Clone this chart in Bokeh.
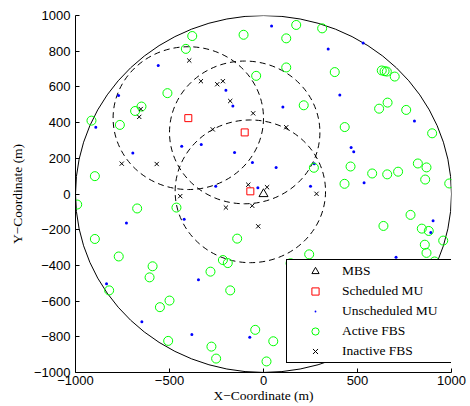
from bokeh.plotting import figure
from bokeh.models import Range1d, FixedTicker, Legend, LegendItem
from bokeh.embed import file_html
from bokeh.resources import INLINE

# ---------------- data ----------------
mbs_x = [0]
mbs_y = [0]

sched_x = [-400, -100, -70]
sched_y = [425, 345, 15]
cluster_radius = [400, 400, 400]

cell_radius = [1000]

unsched_x = [-560, -771, -892, -200, -163, 43, 530, 344, 406, 103, 803, -695, -435, -331, -154,
             -59, -254, -30, -729, -422, 466, 480, 67, 250, 535, 270, 902, 890, -835, -346,
             -647, -381, -73, 705]
unsched_y = [720, 552, 374, 581, 493, 941, 846, 812, 555, 488, 409, 229, 267, 278, 233,
             177, 44, 35, -162, -141, 261, 237, 149, 44, 63, 170, -150, -216, -503, -480,
             -716, -787, -802, -355]

active_x = [-379, -106, -413, -39, -511, -649, -683, -764, -915,
            174, 312, 121, 121, 379, 629, 644, 656, 698, 214, 660, 615, 759, 432, 897,
            -897, -991, -672, -463, -897, -770, -140,
            268, 463, 578, 658, 716, 821, 867, 860, 988, 431, 782, 638, 842, 879, 956, 858, 867, 243, 910, 144,
            -590, -606, -821, -500, -551, -282, -216, -190, -177, -507, -277, -252, -44, 16, 52]
active_y = [885, 892, 813, 662, 565, 490, 465, 387, 411,
            947, 928, 872, 709, 683, 692, 688, 686, 658, 497, 512, 478, 471, 375, 340,
            100, -59, -81, -76, -252, -350, -250,
            147, 154, 115, 110, 125, 171, 149, 81, 59, 57, -117, -179, -194, -207, -261, -284, -330, -338, -378, -388,
            -405, -467, -540, -597, -634, -435, -370, -387, -540, -823, -855, -922, -761, -938, -825]

inact_x = [-395, -333, -246, -216, -177, -55, -653, -661, -270, 121, -754, -568, -443, -81, -200, -60, -28, 19, 282]
inact_y = [748, 632, 615, 632, 521, 452, 476, 432, 362, 374, 170, 168, -12, 52, -76, -66, -181, 38, 1]

x_ticks = [-1000, -500, 0, 500, 1000]
x_tick_labels = ["\u22121000", "\u2212500", "0", "500", "1000"]
y_ticks = [-1000, -800, -600, -400, -200, 0, 200, 400, 600, 800, 1000]
y_tick_labels = ["\u22121000", "\u2212800", "\u2212600", "\u2212400", "\u2212200", "0",
                 "200", "400", "600", "800", "1000"]

legend_labels = ["MBS", "Scheduled MU", "Unscheduled MU", "Active FBS", "Inactive FBS"]

# ---------------- figure ----------------
p = figure(width=470, height=406, x_range=Range1d(-1000, 1000), y_range=Range1d(-1000, 1000),
           output_backend="svg", toolbar_location=None,
           min_border_left=75, min_border_right=19, min_border_top=15, min_border_bottom=34)
p.xgrid.visible = False
p.ygrid.visible = False
p.outline_line_color = None
p.background_fill_color = "white"

# macro cell boundary
p.ellipse(x=[0], y=[0], width=[2 * r for r in cell_radius], height=[2 * r for r in cell_radius],
          fill_color=None, line_color="black", line_width=1)
# clusters around scheduled MUs
p.ellipse(x=sched_x, y=sched_y, width=[2 * r for r in cluster_radius],
          height=[2 * r for r in cluster_radius],
          fill_color=None, line_color="black", line_width=1, line_dash="6 4")

r_mbs = p.scatter(mbs_x, mbs_y, marker="triangle", size=9, fill_color=None,
                  line_color="black", line_width=1)
r_sched = p.scatter(sched_x, sched_y, marker="square", size=7, fill_color=None,
                    line_color="red", line_width=1)
r_unsched = p.scatter(unsched_x, unsched_y, marker="dot", size=12, line_color="blue",
                      fill_color="blue", line_width=1)
r_active = p.scatter(active_x, active_y, marker="circle", size=9, fill_color=None,
                     line_color="#00ff00", line_width=1)
r_inact = p.scatter(inact_x, inact_y, marker="x", size=6, line_color="black", line_width=1)

renderers = [r_mbs, r_sched, r_unsched, r_active, r_inact]
legend = Legend(items=[LegendItem(label=l, renderers=[r]) for l, r in zip(legend_labels, renderers)],
                location=(211, 9), margin=0, padding=1, spacing=0,
                glyph_width=54, glyph_height=18, label_height=20, label_width=108,
                label_standoff=0,
                label_text_font="Liberation Serif", label_text_font_size="13.5px",
                label_text_color="black",
                border_line_color="black", border_line_width=1, border_line_alpha=1,
                background_fill_color="white", background_fill_alpha=1)
p.add_layout(legend)

for ax in (p.xaxis[0], p.yaxis[0]):
    ax.axis_line_color = "black"
    ax.major_tick_line_color = "black"
    ax.major_tick_in = 4
    ax.major_tick_out = 0
    ax.minor_tick_in = 0
    ax.minor_tick_out = 0
    ax.major_label_text_font = "Liberation Sans"
    ax.major_label_text_font_size = "13px"
    ax.major_label_text_color = "black"
    ax.axis_label_text_font = "Liberation Serif"
    ax.axis_label_text_font_size = "13.5px"
    ax.axis_label_text_font_style = "normal"
    ax.axis_label_text_color = "black"

p.xaxis.ticker = FixedTicker(ticks=x_ticks)
p.yaxis.ticker = FixedTicker(ticks=y_ticks)
p.xaxis.major_label_overrides = dict(zip(x_ticks, x_tick_labels))
p.yaxis.major_label_overrides = dict(zip(y_ticks, y_tick_labels))
p.xaxis.axis_label = "X\u2212Coordinate (m)"
p.yaxis.axis_label = "Y\u2212Coordinate (m)"
p.xaxis.major_label_standoff = 3
p.yaxis.major_label_standoff = 5
p.xaxis.axis_label_standoff = 0
p.yaxis.axis_label_standoff = 6

open("out.html", "w").write(file_html(p, INLINE))
